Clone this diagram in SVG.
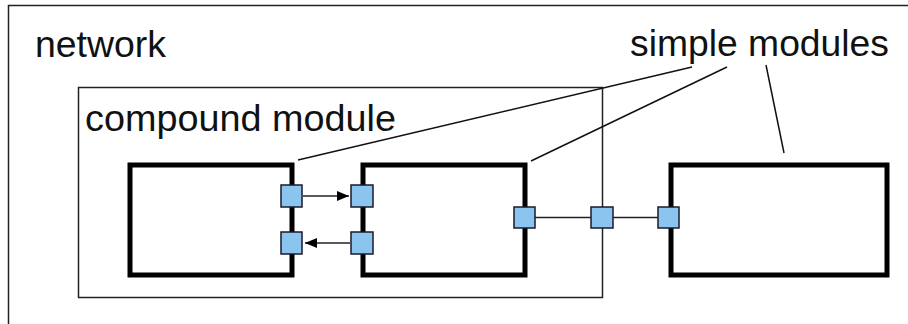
<svg xmlns="http://www.w3.org/2000/svg" width="908" height="324" viewBox="0 0 908 324">
<defs>
<style>
.lbl{font-family:"Liberation Sans",Arial,sans-serif;font-size:37.5px;fill:#111}
.frame{fill:none;stroke:#222;stroke-width:1.5}
.mod{fill:#fff;stroke:#000;stroke-width:5}
.gate{fill:#8cc4f0;stroke:#1a1a2a;stroke-width:1.5}
.lead{fill:none;stroke:#111;stroke-width:1.5}
.conn{fill:none;stroke:#222;stroke-width:1.5}
</style>
<marker id="ah" viewBox="0 0 12 10" refX="12" refY="5" markerWidth="12" markerHeight="10" markerUnits="userSpaceOnUse" orient="auto">
<path d="M0,0 L12,5 L0,10 Z" fill="#000"/>
</marker>
</defs>
<rect width="908" height="324" fill="#fff"/>
<g id="network">
<rect class="frame" x="8.5" y="5.5" width="1000" height="400"/>
<text class="lbl" x="35" y="57" textLength="131" lengthAdjust="spacingAndGlyphs">network</text>
</g>
<g id="compound">
<rect class="frame" x="78.5" y="87.5" width="524" height="210"/>
<text class="lbl" x="85" y="131" textLength="311" lengthAdjust="spacingAndGlyphs">compound module</text>
</g>
<g id="simple1">
<rect class="mod" x="130" y="165" width="162" height="110"/>
<rect class="gate" x="281" y="185" width="21" height="22"/>
<rect class="gate" x="281" y="232" width="21" height="22"/>
</g>
<g id="simple2">
<rect class="mod" x="363" y="165" width="162" height="110"/>
<rect class="gate" x="351" y="185" width="22" height="22"/>
<rect class="gate" x="351" y="232" width="22" height="22"/>
<rect class="gate" x="514" y="207" width="21" height="21"/>
</g>
<g id="simple3">
<rect class="mod" x="671" y="165" width="216" height="110"/>
<rect class="gate" x="658" y="207" width="21" height="21"/>
</g>
<g id="compound-gate">
<rect class="gate" x="591" y="207" width="22" height="21"/>
</g>
<g id="labels">
<text class="lbl" x="630" y="56" textLength="259" lengthAdjust="spacingAndGlyphs">simple modules</text>
</g>
<g id="connectors">
<line class="conn" x1="303" y1="196" x2="349" y2="196" marker-end="url(#ah)"/>
<line class="conn" x1="350" y1="243" x2="305" y2="243" marker-end="url(#ah)"/>
<line class="conn" x1="535" y1="217.5" x2="591" y2="217.5"/>
<line class="conn" x1="613" y1="217.5" x2="658" y2="217.5"/>
<line class="lead" x1="692" y1="67" x2="298" y2="160"/>
<line class="lead" x1="727" y1="67" x2="531" y2="161"/>
<line class="lead" x1="766" y1="65" x2="784" y2="153"/>
</g>
</svg>
